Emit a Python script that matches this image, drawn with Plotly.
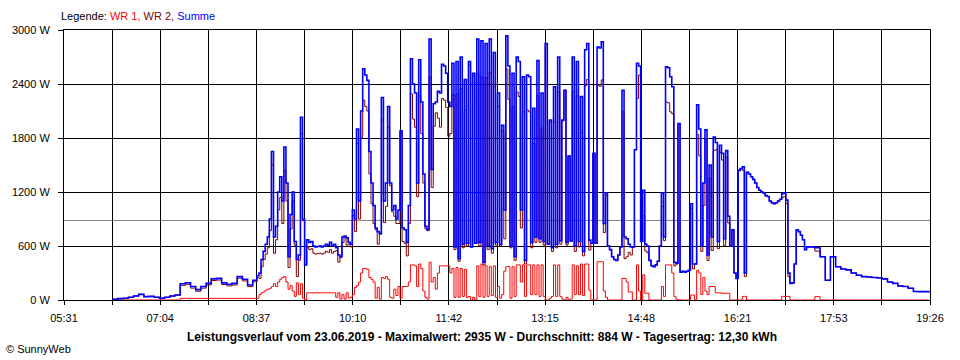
import pandas as pd
import numpy as np
import plotly.graph_objects as go

DAY = "2019-06-23"

# ---------------- time stamps (sampling grid of the logger curve) ----------------
t_morning = pd.date_range(f"{DAY} 06:18", f"{DAY} 08:33", freq="5min")
t_mid = pd.date_range(f"{DAY} 08:37", f"{DAY} 17:27", freq="2min")
t_evening = pd.date_range(f"{DAY} 17:30", f"{DAY} 19:25", freq="5min")

# ---------------- values (W) ----------------
summe_morning = [8, 15, 19, 30, 45, 63, 37, 40, 30, 20, 30, 44, 55, 180, 192, 150, 115, 150, 185, 235,
                 240, 190, 175, 185, 260, 230, 167, 220]
wr1_morning = [0, 0, 0, 0, 0, 0, 0, 0, 0, 0, 0, 0, 0, 18, 18, 18, 18, 18, 18, 18,
               18, 18, 18, 18, 18, 18, 18, 18]
wr2_morning = [8, 15, 19, 30, 45, 63, 37, 40, 30, 20, 30, 44, 55, 162, 174, 132, 97, 132, 167, 217,
               222, 172, 157, 167, 242, 212, 149, 202]

summe_mid = [
    270, 300, 450, 540, 620, 700, 900, 1650, 700, 820,
    1200, 1370, 1100, 1700, 1300, 480, 950, 1200, 650, 450,
    500, 2030, 900, 390, 670, 640, 650, 600, 590, 595,
    600, 590, 600, 620, 610, 640, 600, 620, 580, 500,
    480, 700, 710, 690, 640, 620, 1000, 900, 1900, 1100,
    2100, 2570, 2500, 2440, 1650, 1300, 1050, 800, 760, 740,
    2250, 1100, 1300, 2150, 1300, 1000, 1050, 900, 1000, 1880,
    800, 780, 640, 1050, 2680, 2400, 2300, 1300, 2670, 2200,
    1400, 820, 780, 2900, 1450, 2180, 2200, 2320, 2300, 2620,
    2600, 2520, 2200, 2150, 2630, 590, 2650, 460, 2700, 620,
    2450, 630, 2650, 590, 2520, 630, 2900, 640, 2880, 420,
    2850, 600, 2900, 570, 2750, 640, 2300, 620, 1940, 1000,
    2935, 2600, 600, 2520, 480, 2700, 2650, 1000, 2480, 440,
    2500, 2480, 640, 2130, 700, 2660, 680, 2300, 650, 2850,
    620, 2000, 580, 2370, 620, 2700, 660, 2000, 2330, 640,
    1600, 660, 2700, 600, 2650, 650, 2260, 540, 2780, 2850,
    665, 630, 1630, 630, 2810, 2800, 2870, 850, 1190, 600,
    560, 480, 450, 440, 500, 590, 2330, 700, 680, 620,
    590, 590, 1670, 2630, 2600, 650, 1220, 620, 600, 440,
    380, 370, 390, 430, 600, 1190, 700, 2590, 2580, 2480,
    2370, 420, 410, 1960, 310, 320, 310, 320, 330, 1070,
    400, 400, 2170, 1900, 600, 1300, 1890, 500, 1500, 700,
    1810, 1750, 650, 1720, 1630, 680, 1660, 930, 600, 780,
    300, 240, 1440, 1460, 1480, 300, 1420, 1400, 1370, 1340,
    1300, 1250, 1220, 1200, 1190, 1160, 1150, 1100, 1080, 1070,
    1080, 1100, 1120, 1180, 1190, 1110, 300, 185, 190, 400,
    780, 760, 720, 670, 560, 590,
]
wr1_mid = [
    20, 60, 80, 90, 110, 120, 130, 150, 180, 150,
    200, 230, 250, 260, 200, 120, 160, 100, 40, 190,
    60, 180, 20, 0, 80, 80, 80, 80, 80, 80,
    80, 80, 80, 80, 80, 80, 80, 80, 30, 80,
    10, 60, 10, 80, 20, 30, 60, 140, 160, 200,
    300, 350, 350, 340, 250, 230, 200, 20, 140, 10,
    250, 240, 260, 230, 30, 20, 120, 50, 150, 20,
    150, 150, 150, 200, 390, 390, 380, 150, 400, 350,
    100, 30, 10, 420, 200, 250, 120, 300, 380, 380,
    380, 380, 380, 300, 350, 30, 360, 30, 350, 40,
    340, 30, 40, 0, 30, 0, 380, 40, 400, 30,
    380, 40, 370, 50, 380, 30, 150, 20, 60, 320,
    370, 370, 20, 370, 40, 390, 390, 200, 390, 40,
    390, 390, 60, 390, 60, 390, 40, 390, 40, 0,
    0, 20, 40, 390, 40, 390, 40, 10, 0, 30,
    0, 10, 390, 60, 380, 60, 400, 50, 400, 400,
    110, 0, 0, 0, 425, 425, 425, 100, 30, 0,
    0, 0, 0, 0, 0, 0, 240, 240, 200, 90,
    90, 0, 0, 390, 100, 0, 280, 75, 75, 0,
    0, 0, 0, 0, 0, 150, 40, 390, 390, 390,
    300, 40, 10, 0, 0, 0, 0, 0, 0, 55,
    55, 0, 330, 300, 60, 250, 100, 60, 150, 150,
    150, 80, 80, 80, 75, 75, 75, 75, 0, 0,
    0, 0, 0, 0, 40, 40, 0, 0, 0, 0,
    0, 0, 0, 0, 0, 0, 0, 0, 0, 0,
    0, 0, 0, 40, 40, 40, 40, 0, 0, 0,
    0, 0, 0, 0, 0, 0,
]
wr2_mid = [
    250, 240, 370, 450, 510, 580, 770, 1500, 520, 670,
    1000, 1140, 850, 1440, 1100, 360, 790, 1100, 610, 260,
    440, 1850, 880, 390, 590, 560, 570, 520, 510, 515,
    520, 510, 520, 540, 530, 560, 520, 540, 550, 420,
    470, 640, 700, 610, 620, 590, 940, 760, 1740, 900,
    1800, 2220, 2150, 2100, 1400, 1070, 850, 780, 620, 730,
    2000, 860, 1040, 1920, 1270, 980, 930, 850, 850, 1860,
    650, 630, 490, 850, 2290, 2010, 1920, 1150, 2270, 1850,
    1300, 790, 770, 2480, 1250, 1930, 2080, 2020, 1920, 2240,
    2220, 2140, 1820, 1850, 2280, 560, 2290, 430, 2350, 580,
    2110, 600, 2610, 590, 2490, 630, 2520, 600, 2480, 390,
    2470, 560, 2530, 520, 2370, 610, 2150, 600, 1880, 680,
    2565, 2230, 580, 2150, 440, 2310, 2260, 800, 2090, 400,
    2110, 2090, 580, 1740, 640, 2270, 640, 1910, 610, 2850,
    620, 1980, 540, 1980, 580, 2310, 620, 1990, 2330, 610,
    1600, 650, 2310, 540, 2270, 590, 1860, 490, 2380, 2450,
    555, 630, 1630, 630, 2385, 2375, 2445, 750, 1160, 600,
    560, 480, 450, 440, 500, 590, 2090, 460, 480, 530,
    500, 590, 1670, 2240, 2500, 650, 940, 545, 525, 440,
    380, 370, 390, 430, 600, 1040, 660, 2200, 2190, 2090,
    2070, 380, 400, 1960, 310, 320, 310, 320, 330, 1015,
    345, 400, 1840, 1600, 540, 1050, 1790, 440, 1350, 550,
    1660, 1670, 570, 1640, 1555, 605, 1585, 855, 600, 780,
    300, 240, 1440, 1460, 1440, 260, 1420, 1400, 1370, 1340,
    1300, 1250, 1220, 1200, 1190, 1160, 1150, 1100, 1080, 1070,
    1080, 1100, 1120, 1140, 1150, 1070, 260, 185, 190, 400,
    780, 760, 720, 670, 560, 590,
]

summe_evening = [590, 580, 480, 220, 480, 370, 345, 335, 300, 275, 260, 255, 250, 245, 235, 200,
                 185, 155, 150, 130, 95, 93, 93, 85]
wr1_evening = [0, 37, 0, 0, 0, 0, 0, 0, 0, 0, 0, 0, 0, 0, 0, 0,
               0, 0, 0, 0, 0, 0, 0, 0]
wr2_evening = [590, 543, 480, 220, 480, 370, 345, 335, 300, 275, 260, 255, 250, 245, 235, 200,
               185, 155, 150, 130, 95, 93, 93, 85]

# ---------------- axis texts ----------------
x_tick_labels = ["05:31", "07:04", "08:37", "10:10", "11:42", "13:15", "14:48", "16:21", "17:53", "19:26"]
y_tick_values = [0, 600, 1200, 1800, 2400, 3000]
y_tick_labels = ["0 W", "600 W", "1200 W", "1800 W", "2400 W", "3000 W"]
average_w = 884
title_text = ("Leistungsverlauf vom 23.06.2019 - Maximalwert: 2935 W - "
              "Durchschnitt: 884 W - Tagesertrag: 12,30 kWh")

# ---------------- assemble ----------------
times = t_morning.append(t_mid).append(t_evening)
minutes = np.asarray(times.hour * 60 + times.minute, dtype=float)
summe = summe_morning + summe_mid + summe_evening
wr1 = wr1_morning + wr1_mid + wr1_evening
wr2 = wr2_morning + wr2_mid + wr2_evening
assert len(minutes) == len(summe) == len(wr1) == len(wr2)

x_start, x_end = 5 * 60 + 31, 19 * 60 + 26
major_vals = np.linspace(x_start, x_end, len(x_tick_labels))
minor_vals = (major_vals[:-1] + major_vals[1:]) / 2

FONT = "Liberation Sans, Arial, sans-serif"

fig = go.Figure()
for name, vals, col, w in [("WR 1", wr1, "#FF0000", 1.0), ("WR 2", wr2, "#800000", 1.0),
                           ("Summe", summe, "#0000FF", 1.6)]:
    fig.add_trace(go.Scatter(x=minutes, y=vals, mode="lines", name=name,
                             line=dict(color=col, width=w, shape="hv"), hoverinfo="skip"))

fig.add_shape(type="line", xref="paper", x0=0, x1=1, yref="y", y0=average_w, y1=average_w,
              line=dict(color="#808080", width=1), layer="between")

fig.update_layout(
    width=960, height=360, autosize=False,
    margin=dict(l=60, r=30, t=30, b=60, pad=0),
    paper_bgcolor="white", plot_bgcolor="white",
    showlegend=False,
    font=dict(family=FONT, size=11, color="black"),
    xaxis=dict(range=[x_start, x_end], tickmode="array", tickvals=major_vals, ticktext=x_tick_labels,
               showgrid=True, gridcolor="black", gridwidth=1, zeroline=False,
               showline=True, linecolor="black", linewidth=1, mirror=True,
               ticks="outside", ticklen=4, tickcolor="black", tickwidth=1,
               tickfont=dict(family=FONT, size=11, color="black"), ticklabelstandoff=4,
               minor=dict(tickmode="array", tickvals=minor_vals, showgrid=True, gridcolor="black",
                          gridwidth=1, ticks="outside", ticklen=4, tickcolor="black", tickwidth=1)),
    yaxis=dict(range=[0, 3000], tickmode="array", tickvals=y_tick_values, ticktext=y_tick_labels,
               showgrid=True, gridcolor="black", gridwidth=1, zeroline=False,
               showline=True, linecolor="black", linewidth=1, mirror=True,
               ticks="outside", ticklen=5, tickcolor="black", tickwidth=1,
               tickfont=dict(family=FONT, size=11, color="black"), ticklabelstandoff=6),
)

fig.add_annotation(xref="paper", yref="paper", x=-5 / 870, y=(300 - 16.5) / 270, xanchor="left",
                   yanchor="middle", showarrow=False, font=dict(family=FONT, size=11, color="black"),
                   text=("Legende: <span style='color:#FF0000'>WR 1,</span> "
                         "<span style='color:#800000'>WR 2,</span> "
                         "<span style='color:#0000FF'>Summe</span>"))
fig.add_annotation(xref="paper", yref="paper", x=(480 - 60) / 870, y=(300 - 337) / 270,
                   xanchor="center", yanchor="middle", showarrow=False,
                   font=dict(family=FONT, size=12, color="black"), text=f"<b>{title_text}</b>")
fig.add_annotation(xref="paper", yref="paper", x=(0 - 60) / 870, y=(300 - 349) / 270,
                   xanchor="left", yanchor="middle", showarrow=False,
                   font=dict(family=FONT, size=11, color="black"), text="© SunnyWeb")

fig.write_html("out.html", config={"displayModeBar": False, "staticPlot": True},
               post_script="document.body.style.margin='0';document.body.style.overflow='hidden';")
